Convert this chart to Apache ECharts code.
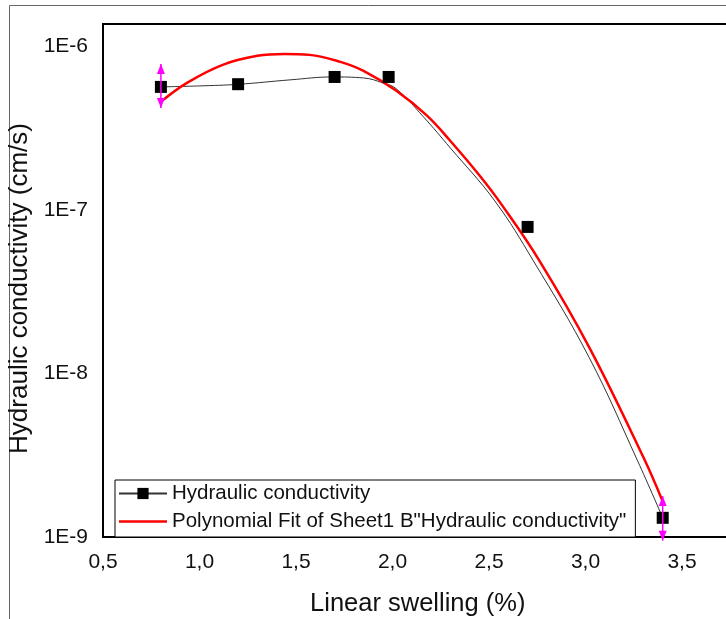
<!DOCTYPE html>
<html>
<head>
<meta charset="utf-8">
<script src="https://cdn.jsdelivr.net/npm/echarts@6/dist/echarts.min.js"></script>
<style>html,body{margin:0;padding:0;background:#fff;}#c{width:726px;height:619px;}</style>
</head>
<body>
<div id="c"></div>
<script>
// Measured data points (black squares)
const swelling = [0.8, 1.2, 1.7, 1.98, 2.7, 3.4];
const conductivity = [5.65e-7, 5.87e-7, 6.5e-7, 6.5e-7, 7.87e-8, 1.31e-9];

// Black smoothed connecting line
const lineX = [0.8, 1.0, 1.2, 1.47, 1.69, 1.85, 1.95, 2.02, 2.16, 2.3, 2.53, 2.73, 3.02, 3.27, 3.4];
const lineY = [5.65e-7, 5.73e-7, 5.86e-7, 6.24e-7, 6.5e-7, 6.41e-7, 5.98e-7, 5.5e-7, 3.71e-7, 2.39e-7, 1.135e-7, 4.88e-8, 1.245e-8, 2.92e-9, 1.31e-9];

// Red polynomial fit curve
const fitX = [0.8, 0.935, 1.12, 1.3, 1.44, 1.57, 1.73, 1.85, 2.02, 2.18, 2.3, 2.45, 2.56, 2.76, 3.02, 3.3, 3.4];
const fitY = [4.58e-7, 5.98e-7, 7.71e-7, 8.75e-7, 8.99e-7, 8.87e-7, 8.04e-7, 7.08e-7, 5.35e-7, 3.76e-7, 2.64e-7, 1.63e-7, 1.10e-7, 4.92e-8, 1.44e-8, 3.07e-9, 1.65e-9];

// Magenta double arrows at the fit range ends
const arrowX = [0.8, 3.4];
const arrowHigh = [7.8e-7, 1.78e-9];
const arrowLow = [4.2e-7, 9.5e-10];

// Tick labels
const xTickValues = [0.5, 1.0, 1.5, 2.0, 2.5, 3.0, 3.5];
const xTickLabels = ['0,5', '1,0', '1,5', '2,0', '2,5', '3,0', '3,5'];
const yTickExps = [-9, -8, -7, -6];
const yTickLabels = ['1E-9', '1E-8', '1E-7', '1E-6'];

const seriesName = 'Hydraulic conductivity';
const fitName = 'Polynomial Fit of Sheet1 B"Hydraulic conductivity"';
const FONT = '"Liberation Sans", Arial, sans-serif';

const chart = echarts.init(document.getElementById('c'), null, {renderer: 'canvas'});

const zip = (a, b) => a.map((v, i) => [v, b[i]]);

chart.setOption({
  animation: false,
  backgroundColor: '#fff',
  graphic: [{
    type: 'rect', z: -10, silent: true,
    shape: {x: 9.5, y: 5.5, width: 900, height: 900},
    style: {fill: 'none', stroke: '#666', lineWidth: 1}
  }],
  grid: {
    left: 103, top: 24, right: -52.5, bottom: 82,
    outerBoundsMode: 'none',
    containLabel: false,
    show: true, borderColor: '#000', borderWidth: 2, backgroundColor: 'transparent'
  },
  legend: {
    orient: 'vertical',
    left: 115, top: 480,
    padding: [3, 9, 5, 3],
    itemGap: 7,
    itemWidth: 48, itemHeight: 14,
    backgroundColor: '#fff',
    borderColor: '#000', borderWidth: 1,
    textStyle: {fontFamily: FONT, fontSize: 20.5, color: '#111'},
    data: [
      {name: seriesName},
      {name: fitName, icon: 'path://M0,0 L48,0 L48,2.5 L0,2.5 Z'}
    ]
  },
  xAxis: {
    type: 'value',
    min: 0.5, max: 4.0, interval: 0.5,
    name: 'Linear swelling (%)',
    nameLocation: 'middle', nameGap: 54,
    nameTextStyle: {fontFamily: FONT, fontSize: 25.5, color: '#111', padding: [0, 46, 0, 0]},
    axisLine: {show: false},
    axisTick: {show: false},
    splitLine: {show: false},
    axisLabel: {
      fontFamily: FONT, fontSize: 21, color: '#111', margin: 15,
      formatter: v => {
        const i = xTickValues.findIndex(t => Math.abs(t - v) < 1e-6);
        return i >= 0 ? xTickLabels[i] : '';
      }
    }
  },
  yAxis: {
    type: 'log', logBase: 10,
    min: 1e-9, max: 1.37e-6,
    name: 'Hydraulic conductivity (cm/s)',
    nameLocation: 'middle', nameGap: 66,
    nameTextStyle: {fontFamily: FONT, fontSize: 26, color: '#111', padding: [0, 16, 0, 0]},
    axisLine: {show: false},
    axisTick: {show: false},
    splitLine: {show: false},
    axisLabel: {
      fontFamily: FONT, fontSize: 21, color: '#111', margin: 15,
      showMaxLabel: false,
      formatter: v => {
        const e = Math.log10(v);
        const i = yTickExps.findIndex(t => Math.abs(t - e) < 1e-6);
        return i >= 0 ? yTickLabels[i] : '';
      }
    }
  },
  series: [
    {
      name: seriesName,
      type: 'line',
      data: zip(lineX, lineY),
      smooth: 0.4,
      symbol: 'rect',
      showSymbol: false,
      itemStyle: {color: '#000'},
      lineStyle: {color: '#333', width: 1},
      z: 3
    },
    {
      name: fitName,
      type: 'line',
      data: zip(fitX, fitY),
      smooth: 0.4,
      symbol: 'none',
      itemStyle: {color: '#f00'},
      lineStyle: {color: '#f00', width: 2.5},
      z: 4
    },
    {
      name: seriesName,
      type: 'scatter',
      data: zip(swelling, conductivity),
      symbol: 'rect',
      symbolSize: 12,
      itemStyle: {color: '#000', opacity: 1},
      z: 5
    },
    {
      name: 'arrows',
      type: 'custom',
      data: arrowX.map((x, i) => [x, arrowHigh[i], arrowLow[i]]),
      encode: {x: 0, y: [1, 2]},
      clip: false,
      silent: true,
      z: 6,
      renderItem: (params, api) => {
        const top = api.coord([api.value(0), api.value(1)]);
        const bot = api.coord([api.value(0), api.value(2)]);
        const x = top[0];
        const c = '#ff00ff';
        const hw = 4, hl = 10;
        return {
          type: 'group',
          children: [
            {type: 'line', shape: {x1: x, y1: top[1], x2: x, y2: bot[1]}, style: {stroke: c, lineWidth: 1.5}},
            {type: 'polygon', shape: {points: [[x, top[1]], [x - hw, top[1] + hl], [x + hw, top[1] + hl]]}, style: {fill: c}},
            {type: 'polygon', shape: {points: [[x, bot[1]], [x - hw, bot[1] - hl], [x + hw, bot[1] - hl]]}, style: {fill: c}}
          ]
        };
      }
    }
  ]
});
</script>
</body>
</html>
